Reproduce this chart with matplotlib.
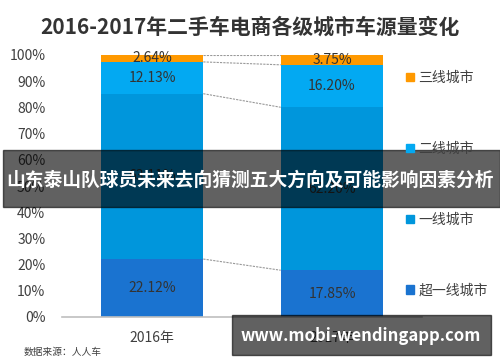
import matplotlib.pyplot as plt
from matplotlib.patches import Rectangle, Patch
import numpy as np

plt.rcParams['font.family'] = ['Noto Sans CJK SC', 'DejaVu Sans']

years = ["2016年", "2017年"]
tiers = ["超一线城市", "一线城市", "二线城市", "三线城市"]
super_first = [22.12, 17.85]
first = [63.11, 62.20]
second = [12.13, 16.20]
third = [2.64, 3.75]
colors = ["#1a73d0", "#0096dc", "#03a9f2", "#ff9900"]

series = [super_first, first, second, third]

W, H = 500, 362
fig = plt.figure(figsize=(W / 100, H / 100), dpi=100)
ax = fig.add_axes([62 / W, 1 - 317 / H, 360 / W, 262 / H])

x = np.arange(len(years))
width = 0.57
bottom = np.zeros(len(years))
for vals, col, name in zip(series, colors, tiers):
    ax.bar(x, vals, width, bottom=bottom, color=col, label=name, zorder=2)
    for xi, b, v in zip(x, bottom, vals):
        ax.text(xi, b + v / 2, f"{v:.2f}%", ha="center", va="center",
                fontsize=10, color="#333333", zorder=3)
    bottom = bottom + np.array(vals)

# dashed connectors between the bars at each segment boundary
cum = np.cumsum(np.array(series), axis=0)
for row in cum:
    ax.plot([x[0] + width / 2, x[1] - width / 2], [row[0], row[1]],
            color="#999999", lw=0.8, ls=(0, (2, 1)), zorder=1)

ax.set_xlim(-0.5, 1.5)
ax.set_ylim(0, 100)
ax.set_yticks(np.arange(0, 101, 10))
ax.set_yticklabels([f"{v}%" for v in range(0, 101, 10)])
ax.set_xticks(x)
ax.set_xticklabels(years)
ax.tick_params(length=0, labelsize=10, colors="#404040")
ax.tick_params(axis="x", pad=10)
ax.tick_params(axis="y", pad=12)
for s in ["top", "right", "left"]:
    ax.spines[s].set_visible(False)
ax.spines["bottom"].set_color("#bfbfbf")
ax.spines["bottom"].set_linewidth(1.2)

handles = [Patch(color=c) for c in colors][::-1]
fig.legend(handles, tiers[::-1], loc="upper left",
           bbox_to_anchor=(399 / W, 1 - 64 / H), frameon=False,
           fontsize=10, labelspacing=4.1, handlelength=0.6, handleheight=0.6,
           handletextpad=0.3, borderpad=0, labelcolor="#404040")

fig.text(0.5, 1 - 27 / H, "2016-2017年二手车电商各级城市车源量变化",
         ha="center", va="center", fontsize=15, fontweight="bold", color="#333333")
fig.text(24 / W, 1 - 352 / H, "数据来源：人人车", ha="left", va="center",
         fontsize=7, color="#404040")

# overlay banners
fig.patches.append(Rectangle((3 / W, 1 - 207 / H), 497 / W, 57 / H,
                             transform=fig.transFigure, color="black",
                             alpha=0.62, zorder=5))
fig.text(250 / W, 1 - 180 / H, "山东泰山队球员未来去向猜测五大方向及可能影响因素分析",
         ha="center", va="center", fontsize=13.5, fontweight="bold",
         color="white", zorder=6)
fig.patches.append(Rectangle((232 / W, 1 - 355 / H), 259 / W, 40 / H,
                             transform=fig.transFigure, color="black",
                             alpha=0.62, zorder=5))
fig.text(361 / W, 1 - 336 / H, "www.mobi-wendingapp.com",
         ha="center", va="center", fontsize=12, fontweight="bold",
         color="white", zorder=6)

fig.savefig("out.png", dpi=100)
